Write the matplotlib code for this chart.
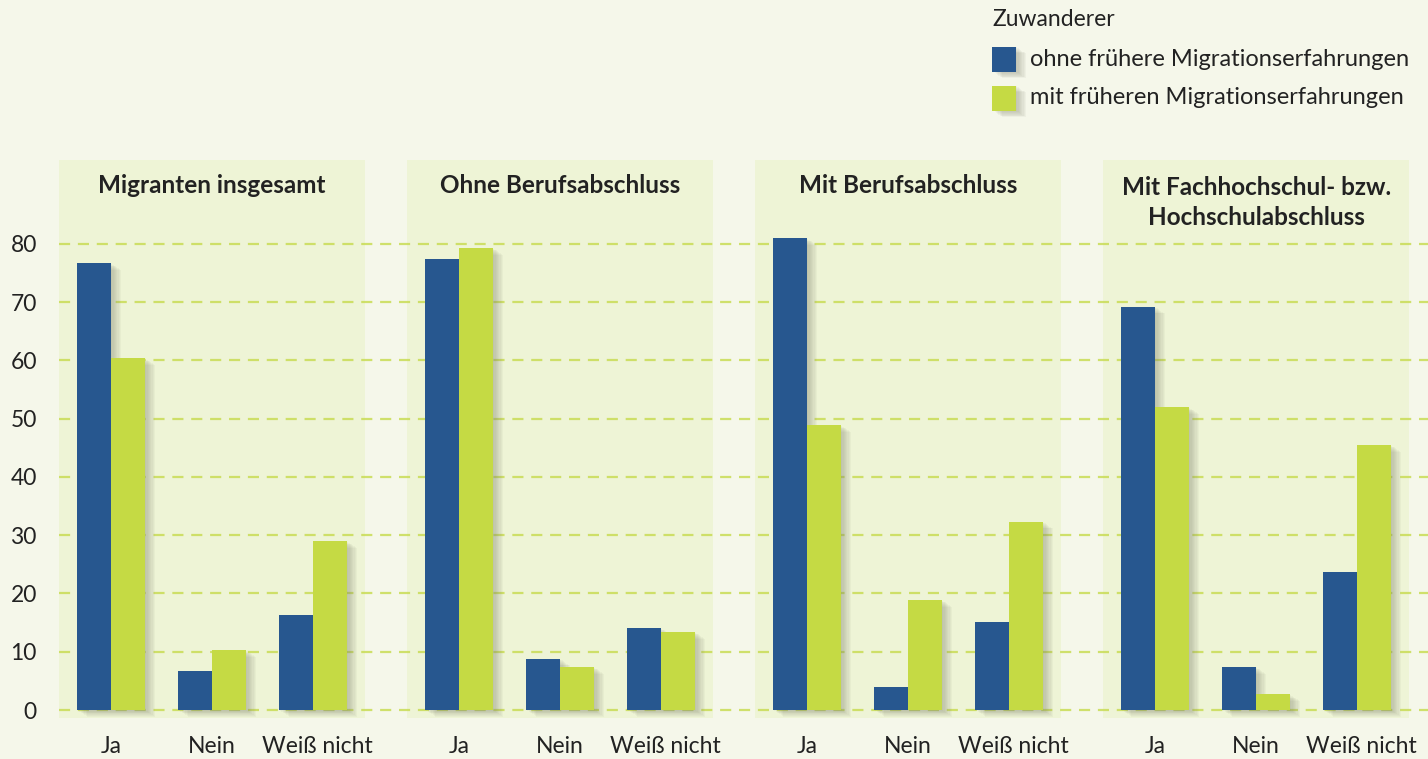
import matplotlib
matplotlib.use("Agg")
import matplotlib.pyplot as plt
import matplotlib.patches as patches
import matplotlib.patheffects as pe
import numpy as np

plt.rcParams['font.family'] = ['Lato', 'DejaVu Sans']

groups = ["Migranten insgesamt", "Ohne Berufsabschluss", "Mit Berufsabschluss",
          "Mit Fachhochschul- bzw.\nHochschulabschluss"]
categories = ["Ja", "Nein", "Weiß nicht"]
series_names = ["ohne frühere Migrationserfahrungen", "mit früheren Migrationserfahrungen"]
ohne = [[76.7, 6.7, 16.3], [77.4, 8.8, 14.1], [81.0, 3.9, 15.1], [69.2, 7.4, 23.7]]
mit = [[60.4, 10.3, 29.0], [79.3, 7.4, 13.4], [48.9, 18.9, 32.3], [52.0, 2.7, 45.5]]
yticks = [0, 10, 20, 30, 40, 50, 60, 70, 80]

BG = "#f5f7ea"
PANEL = "#eef4d6"
BLUE = "#27578f"
GREEN = "#c5da44"
GRID = "#c9dc55"
TEXT = "#222222"

W, H = 1428, 759
fig = plt.figure(figsize=(W / 100, H / 100), dpi=100, facecolor=BG)
# axes box in pixels: left 59, right 1428, top 160, bottom 718
ax = fig.add_axes([59 / W, (H - 718) / H, (W - 59) / W, (718 - 160) / H])
ax.set_facecolor(BG)

group_step = 3.446
bar_w = 0.337
ax.set_xlim(-0.515, -0.515 + (W - 59) / 101)
ax.set_ylim(-1.37, 94.4)

# shadow made of several offset layers
shadow = [pe.SimplePatchShadow(offset=(k * 0.9, -k * 0.6), shadow_rgbFace="#7a7f6a", alpha=0.06)
          for k in range(1, 9)] + [pe.Normal()]

xt, xl = [], []
for g, name in enumerate(groups):
    c0 = g * group_step + 1
    ax.axvspan(c0 - 1.515, c0 + 1.515, color=PANEL, zorder=0, lw=0)
    title_y = 90.0 if "\n" not in name else 87.1
    ax.text(c0, title_y, name, ha="center", va="center", fontsize=17.5, fontweight="bold",
            color=TEXT, linespacing=1.4)
    x = g * group_step + np.arange(len(categories))
    b1 = ax.bar(x - bar_w / 2, ohne[g], bar_w, color=BLUE, zorder=3, lw=0)
    b2 = ax.bar(x + bar_w / 2, mit[g], bar_w, color=GREEN, zorder=3, lw=0)
    for b in list(b1) + list(b2):
        b.set_path_effects(shadow)
    xt += list(x + 0.04 * (np.arange(len(categories)) == 2))
    xl += categories

for v in yticks:
    ax.axhline(v, color=GRID, lw=1.6, ls=(0, (5, 3.5)), zorder=1, alpha=0.85)

ax.set_yticks(yticks)
ax.set_xticks(xt)
ax.set_xticklabels(xl)
ax.tick_params(axis="both", length=0, labelsize=16.5, colors=TEXT)
ax.tick_params(axis="x", pad=13)
ax.tick_params(axis="y", pad=16)
for s in ax.spines.values():
    s.set_visible(False)

# legend
fig.text(992 / W, 1 - 20 / H, "Zuwanderer", fontsize=16.5, color=TEXT, va="center")
for i, (name, col) in enumerate(zip(series_names, [BLUE, GREEN])):
    yc = 59 + i * 39
    r = patches.Rectangle((992 / W, 1 - (yc + 12.5) / H), 24 / W, 25 / H,
                          transform=fig.transFigure, color=col, lw=0)
    r.set_path_effects(shadow)
    fig.add_artist(r)
    fig.text(1030 / W, 1 - yc / H, name, fontsize=17, color=TEXT, va="center")

fig.savefig("out.png", dpi=100, facecolor=BG)
